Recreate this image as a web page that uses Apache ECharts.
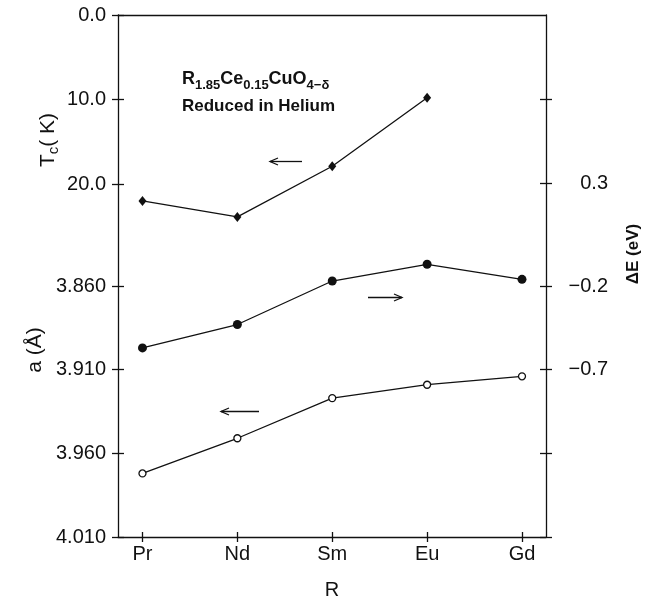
<!DOCTYPE html>
<html>
<head>
<meta charset="utf-8">
<script src="https://cdn.jsdelivr.net/npm/echarts@6/dist/echarts.min.js"></script>
</head>
<body style="margin:0">
<div id="main" style="width:646px;height:600px;"></div>
<script type="text/javascript">
// data
var categories = ['Pr', 'Nd', 'Sm', 'Eu', 'Gd'];
var tcValues = [22.0, 23.9, 17.9, 9.8, null];        // Tc (K), left upper scale
var aValues = [3.972, 3.951, 3.927, 3.919, 3.914];    // a (Å), left lower scale
var deltaE = [-0.57, -0.43, -0.17, -0.07, -0.16];     // ΔE (eV), right scale

var tcTicks = [0, 10, 20];
var aTicks = [3.86, 3.91, 3.96, 4.01];
var eUpperTicks = [0.8, 0.3];
var eUpperLabels = [0.3];
var eLowerTicks = [-0.2, -0.7, -1.2, -1.7];
var eLowerLabels = [-0.2, -0.7];

var ink = '#111';
var font = 'Liberation Sans';

function pairs(values) {
	var out = [];
	for (var i = 0; i < values.length; i++) {
		if (values[i] !== null) out.push([i, values[i]]);
	}
	return out;
}

function minus(s) {
	return s.replace('-', '\u2212');
}

// one axis with outward ticks + line + labels, one twin with inward ticks -> crossing ticks
function yPair(opt) {
	var main = {
		type: 'value',
		position: opt.position,
		inverse: !!opt.inverse,
		min: opt.min,
		max: opt.max,
		splitLine: { show: false },
		axisLine: { show: !!opt.line, onZero: false, lineStyle: { color: ink, width: 1.3 } },
		axisTick: { show: true, inside: false, length: 6, customValues: opt.ticks, lineStyle: { color: ink, width: 1.3 } },
		axisLabel: {
			show: true,
			customValues: opt.labels,
			formatter: opt.fmt,
			fontFamily: font,
			fontSize: 20,
			color: ink,
			align: 'right',
			margin: opt.margin
		}
	};
	var twin = {
		type: 'value',
		position: opt.position,
		inverse: !!opt.inverse,
		min: opt.min,
		max: opt.max,
		splitLine: { show: false },
		axisLine: { show: false, onZero: false },
		axisTick: { show: true, inside: true, length: 6, customValues: opt.ticks, lineStyle: { color: ink, width: 1.3 } },
		axisLabel: { show: false }
	};
	return [main, twin];
}

var yAxes = [].concat(
	yPair({ position: 'left', inverse: true, min: 0, max: 61.78, ticks: tcTicks, labels: tcTicks, line: true, margin: 12,
		fmt: function (v) { return v.toFixed(1); } }),
	yPair({ position: 'left', inverse: true, min: 3.69805, max: 4.010, ticks: aTicks, labels: aTicks, margin: 12,
		fmt: function (v) { return v.toFixed(3); } }),
	yPair({ position: 'right', min: -1.807, max: 1.3, ticks: eUpperTicks, labels: eUpperLabels, line: true, margin: 62,
		fmt: function (v) { return minus(v.toFixed(1)); } }),
	yPair({ position: 'right', min: -1.7, max: 1.42, ticks: eLowerTicks, labels: eLowerLabels, margin: 62,
		fmt: function (v) { return minus(v.toFixed(1)); } })
);

var xMin = -0.258, xMax = 4.253;
var xIdx = [0, 1, 2, 3, 4];

function arrow(x1, x2, y, headLeft) {
	var hx = headLeft ? x1 : x2;
	var d = headLeft ? 8 : -8;
	return {
		type: 'group',
		children: [
			{ type: 'line', shape: { x1: x1, y1: y, x2: x2, y2: y }, style: { stroke: ink, lineWidth: 1.3 } },
			{ type: 'polyline', shape: { points: [[hx + d, y - 3.5], [hx, y], [hx + d, y + 3.5]] }, style: { stroke: ink, lineWidth: 1.3, fill: null } }
		]
	};
}

var myChart = echarts.init(document.getElementById('main'));

var option = {
	backgroundColor: '#fff',
	animation: false,
	grid: { left: 118, right: 100, top: 15, bottom: 63, outerBoundsMode: 'none', containLabel: false },
	xAxis: [
		{
			type: 'value', position: 'bottom', min: xMin, max: xMax,
			splitLine: { show: false },
			axisLine: { show: true, onZero: false, lineStyle: { color: ink, width: 1.3 } },
			axisTick: { show: true, inside: false, length: 5, customValues: xIdx, lineStyle: { color: ink, width: 1.3 } },
			axisLabel: {
				customValues: xIdx,
				formatter: function (v) { return categories[Math.round(v)]; },
				fontFamily: font, fontSize: 20, color: ink, margin: 7
			},
			name: 'R',
			nameLocation: 'middle',
			nameGap: 43,
			nameTextStyle: { fontFamily: font, fontSize: 20, color: ink }
		},
		{
			type: 'value', position: 'bottom', min: xMin, max: xMax,
			splitLine: { show: false },
			axisLine: { show: false, onZero: false },
			axisTick: { show: true, inside: true, length: 5, customValues: xIdx, lineStyle: { color: ink, width: 1.3 } },
			axisLabel: { show: false }
		},
		{
			type: 'value', position: 'top', min: xMin, max: xMax,
			splitLine: { show: false },
			axisLine: { show: true, onZero: false, lineStyle: { color: ink, width: 1.3 } },
			axisTick: { show: false },
			axisLabel: { show: false }
		}
	],
	yAxis: yAxes,
	series: [
		{
			name: 'Tc', type: 'line', xAxisIndex: 0, yAxisIndex: 0,
			data: pairs(tcValues),
			symbol: 'diamond', symbolSize: [8, 10],
			lineStyle: { color: ink, width: 1.3 },
			itemStyle: { color: ink }
		},
		{
			name: 'a', type: 'line', xAxisIndex: 0, yAxisIndex: 2,
			data: pairs(aValues),
			symbol: 'circle', symbolSize: 7, showAllSymbol: true,
			lineStyle: { color: ink, width: 1.3 },
			itemStyle: { color: '#fff', borderColor: ink, borderWidth: 1.3 }
		},
		{
			name: 'dE', type: 'line', xAxisIndex: 0, yAxisIndex: 6,
			data: pairs(deltaE),
			symbol: 'circle', symbolSize: 9,
			lineStyle: { color: ink, width: 1.3 },
			itemStyle: { color: ink, borderWidth: 0 }
		}
	],
	graphic: [
		{
			type: 'text', x: 182, y: 79,
			style: {
				text: 'R{s|1.85}Ce{s|0.15}CuO{s|4\u2212\u03b4}',
				fontFamily: font, fontSize: 18, fontWeight: 'bold', fill: ink,
				verticalAlign: 'middle', lineHeight: 25,
				rich: { s: { fontFamily: font, fontSize: 13, fontWeight: 'bold', fill: ink, verticalAlign: 'bottom', lineHeight: 25 } }
			}
		},
		{
			type: 'text', x: 182, y: 106,
			style: { text: 'Reduced in Helium', fontFamily: font, fontSize: 17, fontWeight: 'bold', fill: ink, verticalAlign: 'middle' }
		},
		{
			type: 'text', x: 48, y: 140, rotation: Math.PI / 2,
			style: {
				text: 'T{s|c}( K)', fontFamily: font, fontSize: 21, fill: ink,
				align: 'center', verticalAlign: 'middle', lineHeight: 26,
				rich: { s: { fontFamily: font, fontSize: 15, fill: ink, verticalAlign: 'bottom', lineHeight: 26 } }
			}
		},
		{
			type: 'text', x: 35, y: 350, rotation: Math.PI / 2,
			style: { text: 'a (\u00c5)', fontFamily: font, fontSize: 21, fill: ink, align: 'center', verticalAlign: 'middle' }
		},
		{
			type: 'text', x: 633, y: 254, rotation: Math.PI / 2,
			style: { text: '\u0394E (eV)', fontFamily: font, fontSize: 17, fontWeight: 'bold', fill: ink, align: 'center', verticalAlign: 'middle' }
		},
		arrow(270, 302, 161.5, true),
		arrow(368, 402, 297.5, false),
		arrow(221, 259, 411.5, true)
	]
};

myChart.setOption(option);
</script>
</body>
</html>
